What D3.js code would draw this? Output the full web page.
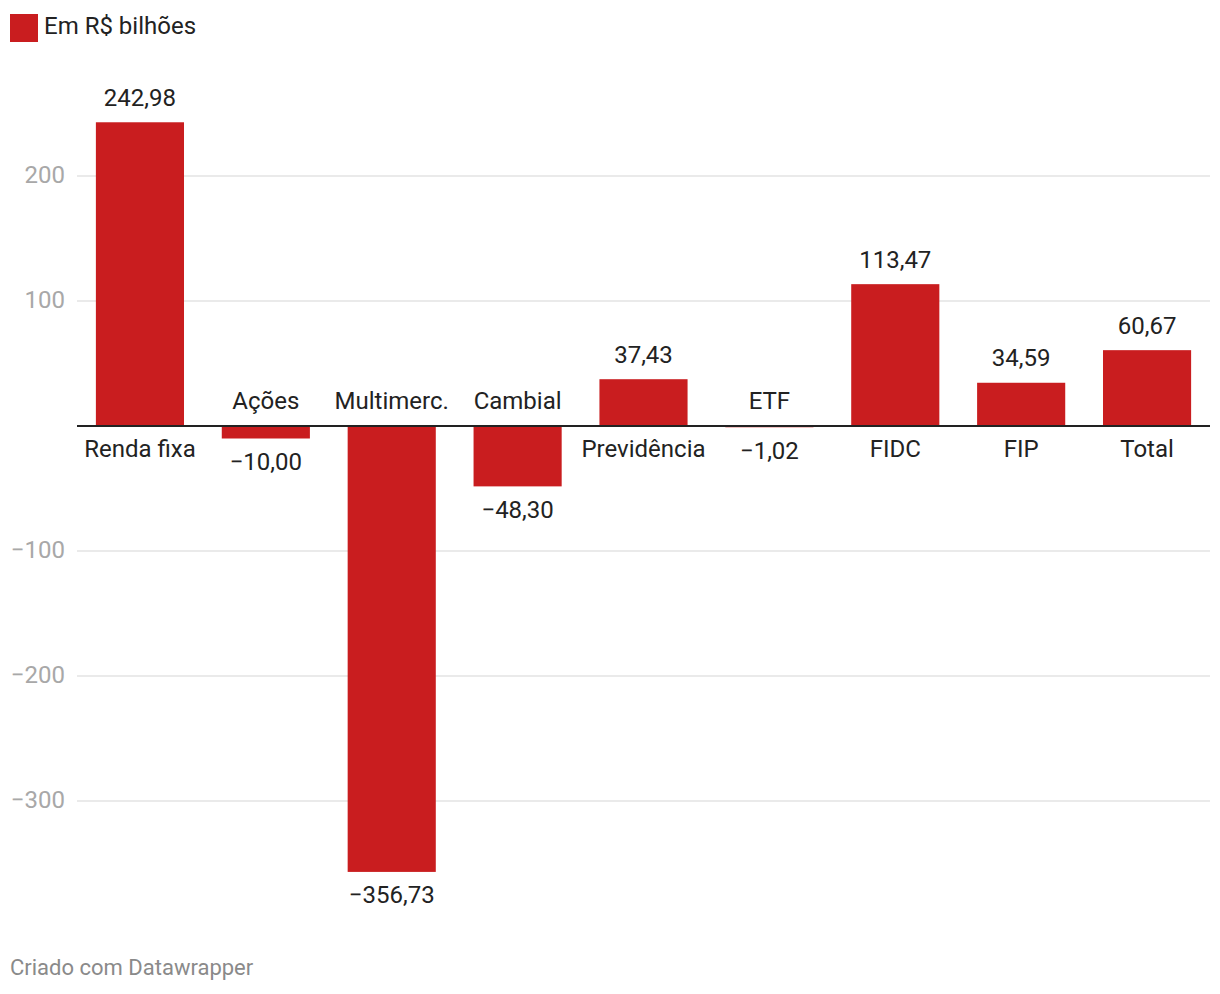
<!DOCTYPE html>
<html><head><meta charset="utf-8">
<script src="https://cdn.jsdelivr.net/npm/d3@7"></script>
<style>body{margin:0;background:#fff;font-family:Roboto,"Noto Sans",sans-serif;}</style>
</head><body><svg id="c" width="1220" height="994"></svg>
<script>
const categories = ["Renda fixa","Ações","Multimerc.","Cambial","Previdência","ETF","FIDC","FIP","Total"];
const values = [242.98,-10.00,-356.73,-48.30,37.43,-1.02,113.47,34.59,60.67];
const yTicks = [-300,-200,-100,100,200];
const legendLabel = "Em R$ bilhões";
const footer = "Criado com Datawrapper";
const barColor = "#c91d1f";

const svg = d3.select("#c");
const x = d3.scaleBand().domain(categories).range([77,1210]).paddingInner(0.3).paddingOuter(0.15);
const y = d3.scaleLinear().domain([0,100]).range([426,301]);
const fmt = v => (v<0?"\u2212":"") + Math.abs(v).toFixed(2).replace(".",",");
const FS = 24;
const DY = "0.31em";

// legend
svg.append("rect").attr("x",10).attr("y",14).attr("width",28).attr("height",28).attr("fill",barColor);
svg.append("text").attr("x",44).attr("y",27).attr("dy",DY).attr("font-size",FS).attr("fill","#222").text(legendLabel);

// grid
const g = svg.append("g");
g.selectAll("line.grid").data(yTicks).join("line").attr("class","grid")
 .attr("x1",77).attr("x2",1210).attr("y1",d=>y(d)).attr("y2",d=>y(d))
 .attr("stroke","#e3e3e3").attr("stroke-width",1.5);
g.selectAll("text.tick").data(yTicks).join("text").attr("class","tick")
 .attr("x",65).attr("y",d=>y(d)).attr("dy",DY).attr("text-anchor","end")
 .attr("font-size",FS).attr("fill","#a8a8a8").text(d=>(d<0?"\u2212":"")+Math.abs(d));

// bars
svg.selectAll("rect.bar").data(values).join("rect").attr("class","bar")
 .attr("x",(d,i)=>x(categories[i])).attr("width",x.bandwidth())
 .attr("y",d=>Math.min(y(d),y(0))).attr("height",d=>Math.abs(y(d)-y(0)))
 .attr("fill",barColor);

// baseline
svg.append("line").attr("x1",77).attr("x2",1210).attr("y1",y(0)).attr("y2",y(0))
 .attr("stroke","#222").attr("stroke-width",2);

// value labels
svg.selectAll("text.val").data(values).join("text").attr("class","val")
 .attr("x",(d,i)=>x(categories[i])+x.bandwidth()/2)
 .attr("y",d=> d>=0 ? y(d)-24 : y(d)+24).attr("dy",DY)
 .attr("text-anchor","middle").attr("font-size",FS).attr("fill","#222").text(fmt);

// category labels
svg.selectAll("text.cat").data(values).join("text").attr("class","cat")
 .attr("x",(d,i)=>x(categories[i])+x.bandwidth()/2)
 .attr("y",d=> d>=0 ? y(0)+24 : y(0)-24).attr("dy",DY)
 .attr("text-anchor","middle").attr("font-size",FS).attr("fill","#222").text((d,i)=>categories[i]);

svg.append("text").attr("x",10).attr("y",968).attr("dy",DY).attr("font-size",22).attr("fill","#8a8a8a").text(footer);
</script></body></html>
